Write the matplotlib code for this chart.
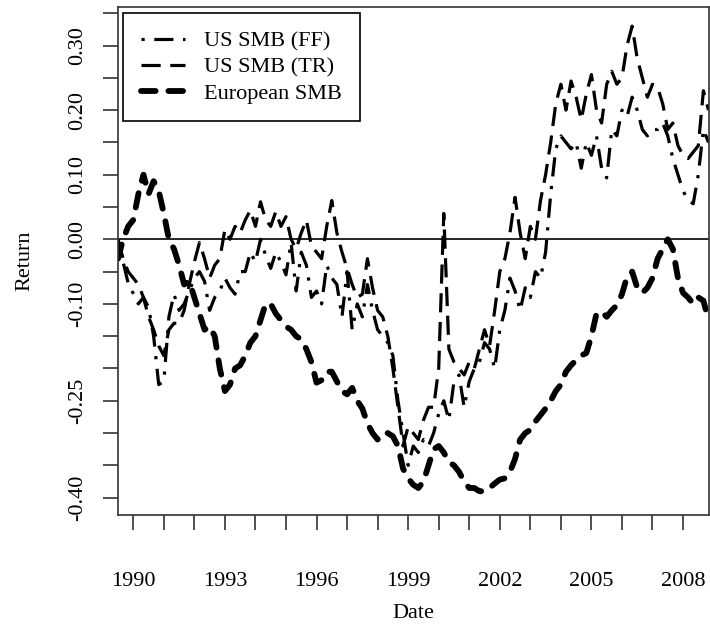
import matplotlib
matplotlib.use("Agg")
import matplotlib.pyplot as plt
import numpy as np

plt.rcParams['font.family'] = ['Liberation Serif', 'DejaVu Serif']

# two-monthly observations, mid 1989 to late 2008
dates = 1989.5 + np.arange(117) / 6.0

us_ff = [-0.02, -0.035, -0.068, -0.084, -0.10, -0.09, -0.105, -0.15, -0.225, -0.22,
         -0.12, -0.085, -0.11, -0.10, -0.08, -0.06, -0.05, -0.065, -0.11, -0.09,
         -0.08, -0.06, -0.075, -0.085, -0.05, -0.05, -0.02, -0.035, 0.0, -0.025,
         -0.045, -0.02, -0.035, -0.055, -0.005, -0.08, -0.02, -0.04, -0.09, -0.08,
         -0.10, -0.04, -0.06, -0.07, -0.12, -0.05, -0.14, -0.10, -0.12, -0.07,
         -0.11, -0.14, -0.15, -0.16, -0.18, -0.25, -0.30, -0.35, -0.32, -0.33,
         -0.31, -0.32, -0.30, -0.27, -0.25, -0.28, -0.22, -0.21, -0.26, -0.22,
         -0.20, -0.19, -0.16, -0.17, -0.20, -0.14, -0.11, -0.06, -0.08, -0.11,
         -0.075, -0.09, -0.05, -0.06, -0.02, 0.07, 0.14, 0.16, 0.15, 0.14,
         0.15, 0.11, 0.15, 0.13, 0.16, 0.11, 0.095, 0.17, 0.16, 0.20,
         0.19, 0.22, 0.20, 0.17, 0.16, 0.17, 0.17, 0.18, 0.16, 0.125,
         0.10, 0.075, 0.06, 0.055, 0.10, 0.17, 0.15]

us_tr = [0.0, -0.03, -0.05, -0.06, -0.07, -0.09, -0.12, -0.14, -0.165, -0.18,
         -0.14, -0.13, -0.13, -0.11, -0.07, -0.035, -0.005, -0.03, -0.06, -0.04,
         -0.03, 0.015, 0.0, 0.02, 0.01, 0.03, 0.045, 0.02, 0.058, 0.03,
         0.02, 0.043, 0.02, 0.035, 0.0, -0.015, 0.01, 0.03, -0.01, -0.02,
         -0.03, 0.02, 0.06, 0.01, -0.02, -0.045, -0.07, -0.09, -0.085, -0.03,
         -0.075, -0.11, -0.12, -0.15, -0.20, -0.26, -0.32, -0.29, -0.30, -0.31,
         -0.28, -0.26, -0.26, -0.20, 0.04, -0.17, -0.19, -0.20, -0.21, -0.19,
         -0.20, -0.17, -0.14, -0.165, -0.11, -0.05, -0.03, 0.01, 0.065, 0.01,
         -0.03, 0.02, 0.0, 0.06, 0.10, 0.15, 0.21, 0.24, 0.20, 0.245,
         0.22, 0.185, 0.225, 0.255, 0.20, 0.18, 0.24, 0.26, 0.24, 0.25,
         0.30, 0.33, 0.28, 0.25, 0.22, 0.24, 0.235, 0.21, 0.17, 0.18,
         0.145, 0.13, 0.125, 0.135, 0.145, 0.23, 0.20]

euro_smb = [-0.03, 0.00, 0.02, 0.03, 0.07, 0.10, 0.07, 0.09, 0.075, 0.04,
            0.00, -0.015, -0.04, -0.07, -0.065, -0.09, -0.115, -0.14, -0.135, -0.15,
            -0.20, -0.235, -0.225, -0.20, -0.195, -0.18, -0.16, -0.15, -0.125, -0.10,
            -0.10, -0.115, -0.125, -0.135, -0.14, -0.15, -0.155, -0.17, -0.19, -0.222,
            -0.218, -0.205, -0.205, -0.22, -0.235, -0.24, -0.23, -0.25, -0.262, -0.285,
            -0.30, -0.31, -0.30, -0.30, -0.305, -0.32, -0.355, -0.37, -0.38, -0.385,
            -0.375, -0.35, -0.325, -0.32, -0.33, -0.345, -0.35, -0.36, -0.375, -0.385,
            -0.385, -0.39, -0.39, -0.385, -0.378, -0.372, -0.37, -0.36, -0.34, -0.31,
            -0.30, -0.295, -0.282, -0.272, -0.262, -0.25, -0.235, -0.225, -0.205, -0.195,
            -0.187, -0.18, -0.176, -0.15, -0.115, -0.112, -0.12, -0.11, -0.102, -0.085,
            -0.058, -0.05, -0.075, -0.083, -0.075, -0.06, -0.03, -0.015, 0.0, -0.015,
            -0.06, -0.083, -0.09, -0.10, -0.09, -0.095, -0.125]

years = list(range(1990, 2009))
year_labels = [str(y) if (y - 1990) % 3 == 0 else "" for y in years]
yticks = [-0.40, -0.35, -0.30, -0.25, -0.20, -0.15, -0.10, -0.05,
          0.00, 0.05, 0.10, 0.15, 0.20, 0.25, 0.30, 0.35]
ytick_labels = ["-0.40", "", "", "-0.25", "", "", "-0.10", "",
                "0.00", "", "0.10", "", "0.20", "", "0.30", ""]

fig = plt.figure(figsize=(7.1, 6.32), dpi=100)
ax = fig.add_axes([118 / 710, 1 - 515 / 632, (709 - 118) / 710, (515 - 7) / 632])

ax.axhline(0, color='black', lw=1.2, zorder=1)
ax.plot(dates, us_ff, color='black', lw=2.3, dashes=(1, 3, 6, 3), label='US SMB (FF)')
ax.plot(dates, us_tr, color='black', lw=2.3, dashes=(6, 3), label='US SMB (TR)')
ax.plot(dates, euro_smb, color='black', lw=4.2, dashes=(2.5, 2.2),
        dash_capstyle='round', label='European SMB')

ax.set_xlim(1989.5, 2008.85)
ax.set_ylim(-0.4268, 0.3596)
ax.set_xticks(years)
ax.set_xticklabels(year_labels, fontsize=16)
ax.set_yticks(yticks)
ax.set_yticklabels(ytick_labels, fontsize=16, rotation=90, va='center')
ax.tick_params(axis='both', direction='out', length=11, width=1.1, color='#222222')
ax.tick_params(axis='x', pad=30)
ax.tick_params(axis='y', pad=11)
for s in ax.spines.values():
    s.set_linewidth(1.2)
    s.set_color('#333333')

fig.text(25 / 710, 1 - 261 / 632, 'Return', rotation=90, ha='center', va='center', fontsize=16)
fig.text(413 / 710, 1 - 614 / 632, 'Date', ha='center', va='center', fontsize=16)

leg = ax.legend(loc='upper left', bbox_to_anchor=(0.0085, 0.988), borderaxespad=0,
                fontsize=16, handlelength=2.0, handletextpad=0.85, labelspacing=0.25,
                borderpad=0.8, fancybox=False, framealpha=1)
leg.get_frame().set_edgecolor('black')
leg.get_frame().set_linewidth(1.2)

fig.savefig('out.png', dpi=100)
